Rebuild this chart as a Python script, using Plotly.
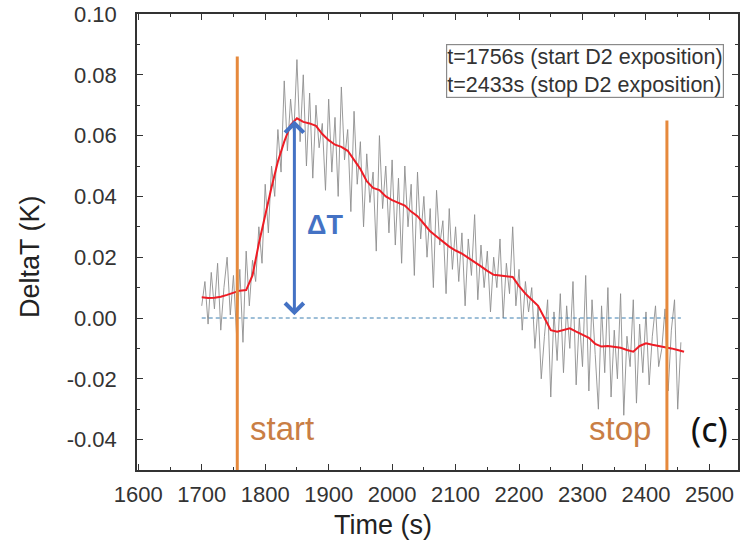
import plotly.graph_objects as go

# Raw signal (gray), sampled every 5 s from 1700 s to 2455 s
raw_time = list(range(1700, 2460, 5))
raw_delta = [
    0.004, 0.012, -0.002, 0.015, 0.003, 0.018, -0.004, 0.010, 0.020, 0.001, 0.014, -0.006,
    0.016, -0.008, 0.022, 0.004, 0.019, 0.012, 0.030, 0.018,
    0.044, 0.028, 0.050, 0.040, 0.062, 0.048, 0.078, 0.055, 0.072, 0.060,
    0.085, 0.058, 0.080, 0.050, 0.074, 0.046, 0.070, 0.056, 0.064, 0.042,
    0.072, 0.048, 0.066, 0.040, 0.076, 0.052, 0.062, 0.035, 0.068, 0.044,
    0.058, 0.030, 0.054, 0.038, 0.048, 0.022, 0.060, 0.036, 0.050, 0.028,
    0.052, 0.024, 0.046, 0.018, 0.050, 0.030, 0.044, 0.014, 0.048, 0.026,
    0.040, 0.020, 0.036, 0.010, 0.042, 0.024, 0.032, 0.008, 0.036, 0.016,
    0.030, 0.012, 0.028, 0.004, 0.026, 0.014, 0.034, 0.006, 0.024, 0.010,
    0.022, 0.002, 0.020, 0.010, 0.026, 0.000, 0.018, 0.008, 0.030, 0.004,
    0.016, -0.004, 0.012, 0.002, 0.010, -0.010, 0.004, -0.020, -0.006, 0.006,
    -0.026, 0.002, -0.014, 0.008, -0.018, 0.004, -0.010, 0.012, -0.022, 0.000,
    -0.016, 0.014, -0.024, 0.006, -0.012, -0.030, 0.004, -0.018, 0.010, -0.026,
    -0.004, -0.020, 0.008, -0.032, -0.006, -0.016, 0.006, -0.028, -0.002, -0.018,
    0.002, -0.022, -0.006, 0.004, -0.016, -0.010, 0.003, -0.024, -0.004, 0.006, -0.030, -0.008,
]

# Smoothed signal (red)
smooth_time = list(range(1700, 2470, 10))
smooth_delta = [
    0.0068, 0.0066, 0.0067, 0.0070, 0.0076, 0.0084, 0.0090, 0.0092, 0.0140, 0.0245,
    0.0340, 0.0430, 0.0515, 0.0580, 0.0635, 0.0657, 0.0645, 0.0640, 0.0632, 0.0605,
    0.0585, 0.0570, 0.0563, 0.0550, 0.0520, 0.0490, 0.0450, 0.0428, 0.0421, 0.0400,
    0.0388, 0.0380, 0.0370, 0.0350, 0.0335, 0.0310, 0.0285, 0.0268, 0.0250, 0.0235,
    0.0222, 0.0212, 0.0198, 0.0185, 0.0170, 0.0155, 0.0142, 0.0140, 0.0138, 0.0135,
    0.0105, 0.0080, 0.0060, 0.0040, 0.0000, -0.0040, -0.0045, -0.0040, -0.0034, -0.0045,
    -0.0056, -0.0065, -0.0085, -0.0094, -0.0092, -0.0094, -0.0098, -0.0105, -0.0111, -0.0092,
    -0.0083, -0.0088, -0.0092, -0.0094, -0.0100, -0.0105, -0.0111,
]

start_time = 1756
stop_time = 2433
start_top = 0.086
stop_top = 0.065
baseline_span = [1700, 2455]
delta_t_x = 1846
delta_t_peak = 0.065

x_ticks = [1600, 1700, 1800, 1900, 2000, 2100, 2200, 2300, 2400, 2500]
y_ticks = [-0.04, -0.02, 0.00, 0.02, 0.04, 0.06, 0.08, 0.10]
y_tick_text = ["-0.04", "-0.02", "0.00", "0.02", "0.04", "0.06", "0.08", "0.10"]

orange = "#E6893C"
blue = "#4472C4"
FONT = "Liberation Sans, Arial"

fig = go.Figure()
fig.add_trace(go.Scatter(x=raw_time, y=raw_delta, mode="lines",
                         line=dict(color="#8E8E8E", width=0.9), showlegend=False))
fig.add_trace(go.Scatter(x=baseline_span, y=[0, 0], mode="lines",
                         line=dict(color="#3C7FB0", width=1, dash="4px,3px"), showlegend=False))
fig.add_trace(go.Scatter(x=smooth_time, y=smooth_delta, mode="lines",
                         line=dict(color="#EE1C25", width=2), showlegend=False))
fig.add_trace(go.Scatter(x=[start_time, start_time], y=[-0.05, start_top], mode="lines",
                         line=dict(color=orange, width=3), showlegend=False))
fig.add_trace(go.Scatter(x=[stop_time, stop_time], y=[-0.05, stop_top], mode="lines",
                         line=dict(color=orange, width=3), showlegend=False))

# Double-headed arrow for ΔT
fig.add_annotation(x=delta_t_x, y=delta_t_peak, ax=delta_t_x, ay=0.0004,
                   xref="x", yref="y", axref="x", ayref="y", text="",
                   showarrow=True, arrowhead=4, startarrowhead=4, arrowside="end+start",
                   arrowsize=1.2, startarrowsize=1.2, arrowwidth=3, arrowcolor=blue)
fig.add_annotation(x=1895, y=0.0305, xref="x", yref="y", text="<b>ΔT</b>", showarrow=False,
                   font=dict(family=FONT, size=27, color=blue))

fig.add_annotation(x=1826, y=-0.0365, xref="x", yref="y", text="start", showarrow=False,
                   font=dict(family=FONT, size=33, color="#C97E45"))
fig.add_annotation(x=2359, y=-0.0365, xref="x", yref="y", text="stop", showarrow=False,
                   font=dict(family=FONT, size=33, color="#C97E45"))
fig.add_annotation(x=2500, y=-0.0365, xref="x", yref="y", text="(c)", showarrow=False,
                   font=dict(family="Noto Sans, Arial", size=34, color="#111111"))

fig.add_annotation(x=0.745, y=0.874, xref="paper", yref="paper",
                   xanchor="center", yanchor="middle",
                   text="t=1756s (start D2 exposition)<br>t=2433s (stop D2 exposition)",
                   showarrow=False, align="left",
                   font=dict(family=FONT, size=21.5, color="#333333"),
                   bordercolor="#8A8A8A", borderwidth=1.2, borderpad=0, bgcolor="white")

# Axis titles
fig.add_annotation(x=-0.178, y=0.467, xref="paper", yref="paper", text="DeltaT (K)",
                   xanchor="center", yanchor="middle", textangle=-90, showarrow=False,
                   font=dict(family=FONT, size=27, color="#222222"))
fig.add_annotation(x=0.41, y=-0.12, xref="paper", yref="paper", text="Time (s)",
                   xanchor="center", yanchor="middle", showarrow=False,
                   font=dict(family=FONT, size=27, color="#222222"))

axis_common = dict(showline=True, linecolor="#333333", linewidth=1.6, mirror="allticks",
                   ticks="inside", ticklen=6, tickwidth=1.2, tickcolor="#333333",
                   showgrid=False, zeroline=False, automargin=False,
                   tickfont=dict(family=FONT, size=22, color="#333333"))

fig.update_xaxes(range=[1598, 2545], tickvals=x_ticks, ticklabelstandoff=4,
                 minor=dict(dtick=50, tick0=1600, ticks="inside", ticklen=3, tickcolor="#333333"),
                 **axis_common)
fig.update_yaxes(range=[-0.05, 0.10], tickvals=y_ticks, ticktext=y_tick_text, ticklabelstandoff=14,
                 minor=dict(dtick=0.01, tick0=0, ticks="inside", ticklen=3, tickcolor="#333333"),
                 **axis_common)

fig.update_layout(width=746, height=556, margin=dict(l=137, r=8, t=14, b=86),
                  plot_bgcolor="white", paper_bgcolor="white", showlegend=False)

fig.write_html("out.html", config={"displayModeBar": False},
               post_script="document.body.style.margin='0';")
